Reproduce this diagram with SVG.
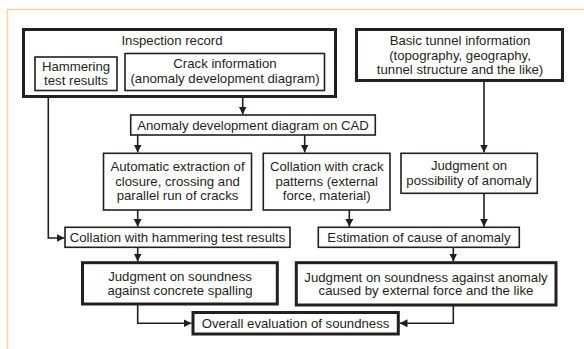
<svg xmlns="http://www.w3.org/2000/svg" width="584" height="349" viewBox="0 0 584 349">
<style>
.frame{fill:none;stroke:#ffd49c;stroke-width:1.5}
.thin{fill:#fff;stroke:#231f20;stroke-width:1.6}
.thick{fill:#fff;stroke:#231f20;stroke-width:3}
.t{font-family:"Liberation Sans",Arial,sans-serif;font-size:13.2px;fill:#231f20;text-anchor:middle}
.c{fill:none;stroke:#231f20;stroke-width:1.6}
</style>
<defs>
<marker id="ah" viewBox="0 0 8 8" refX="8" refY="4" markerWidth="8" markerHeight="8" markerUnits="userSpaceOnUse" orient="auto">
<path d="M0,0 L8,4 L0,8 z" fill="#231f20"/>
</marker>
</defs>
<rect width="584" height="349" fill="#fff"/>
<path class="frame" d="M7.5,349 V9.5 H584"/>

<g id="connectors">
<path class="c" d="M242.7,97 V114.5" marker-end="url(#ah)"/>
<path class="c" d="M137.7,135 V152.5" marker-end="url(#ah)"/>
<path class="c" d="M304.7,135 V152.5" marker-end="url(#ah)"/>
<path class="c" d="M484,81 V152.5" marker-end="url(#ah)"/>
<path class="c" d="M48.3,97 V238 H64.5" marker-end="url(#ah)"/>
<path class="c" d="M137.7,210 V226.8" marker-end="url(#ah)"/>
<path class="c" d="M349.3,210 V226.8" marker-end="url(#ah)"/>
<path class="c" d="M484,193.3 V226.8" marker-end="url(#ah)"/>
<path class="c" d="M137.7,247.3 V261.5" marker-end="url(#ah)"/>
<path class="c" d="M453.3,247.3 V261.5" marker-end="url(#ah)"/>
<path class="c" d="M137.7,304 V323.3 H191.5" marker-end="url(#ah)"/>
<path class="c" d="M453.3,305 V323.3 H399.5" marker-end="url(#ah)"/>
</g>

<g id="inspection-record">
<rect class="thick" x="23.5" y="29.5" width="312" height="67"/>
<text class="t" x="172" y="45">Inspection record</text>
</g>
<g id="hammering-test-results">
<rect class="thin" x="35" y="57" width="82" height="33.5"/>
<text class="t" x="76" y="71">Hammering</text>
<text class="t" x="76" y="85">test results</text>
</g>
<g id="crack-information">
<rect class="thin" x="125" y="53.5" width="199.5" height="37"/>
<text class="t" x="225" y="67.5">Crack information</text>
<text class="t" x="225" y="83">(anomaly development diagram)</text>
</g>
<g id="basic-tunnel-information">
<rect class="thick" x="356.5" y="29.5" width="206" height="51"/>
<text class="t" x="460" y="45">Basic tunnel information</text>
<text class="t" x="460" y="60">(topography, geography,</text>
<text class="t" x="460" y="74">tunnel structure and the like)</text>
</g>
<g id="anomaly-diagram-cad">
<rect class="thin" x="130.7" y="115" width="244.6" height="20"/>
<text class="t" x="253" y="129.5">Anomaly development diagram on CAD</text>
</g>
<g id="automatic-extraction">
<rect class="thin" x="103.5" y="153.3" width="148" height="56.7"/>
<text class="t" x="177.5" y="170.5">Automatic extraction of</text>
<text class="t" x="177.5" y="185.5">closure, crossing and</text>
<text class="t" x="177.5" y="200">parallel run of cracks</text>
</g>
<g id="collation-crack-patterns">
<rect class="thin" x="263.3" y="153.3" width="126.7" height="56.7"/>
<text class="t" x="326.7" y="170.5">Collation with crack</text>
<text class="t" x="326.7" y="185.5">patterns (external</text>
<text class="t" x="326.7" y="200">force, material)</text>
</g>
<g id="judgment-possibility">
<rect class="thin" x="401" y="153.3" width="136.3" height="40"/>
<text class="t" x="469" y="170">Judgment on</text>
<text class="t" x="469" y="185">possibility of anomaly</text>
</g>
<g id="collation-hammering">
<rect class="thin" x="65" y="227.3" width="225" height="20"/>
<text class="t" x="177.5" y="241.7">Collation with hammering test results</text>
</g>
<g id="estimation-cause">
<rect class="thin" x="318.3" y="227.3" width="201" height="20"/>
<text class="t" x="419" y="241.7">Estimation of cause of anomaly</text>
</g>
<g id="judgment-spalling">
<rect class="thick" x="82.5" y="262.7" width="194.8" height="41.3"/>
<text class="t" x="180" y="281">Judgment on soundness</text>
<text class="t" x="180" y="294.5">against concrete spalling</text>
</g>
<g id="judgment-external">
<rect class="thick" x="296.3" y="262.7" width="259.7" height="42.3"/>
<text class="t" x="426" y="281.5">Judgment on soundness against anomaly</text>
<text class="t" x="426" y="295">caused by external force and the like</text>
</g>
<g id="overall-evaluation">
<rect class="thick" x="193" y="312.5" width="205.3" height="21.5"/>
<text class="t" x="295.5" y="327.7">Overall evaluation of soundness</text>
</g>
</svg>
